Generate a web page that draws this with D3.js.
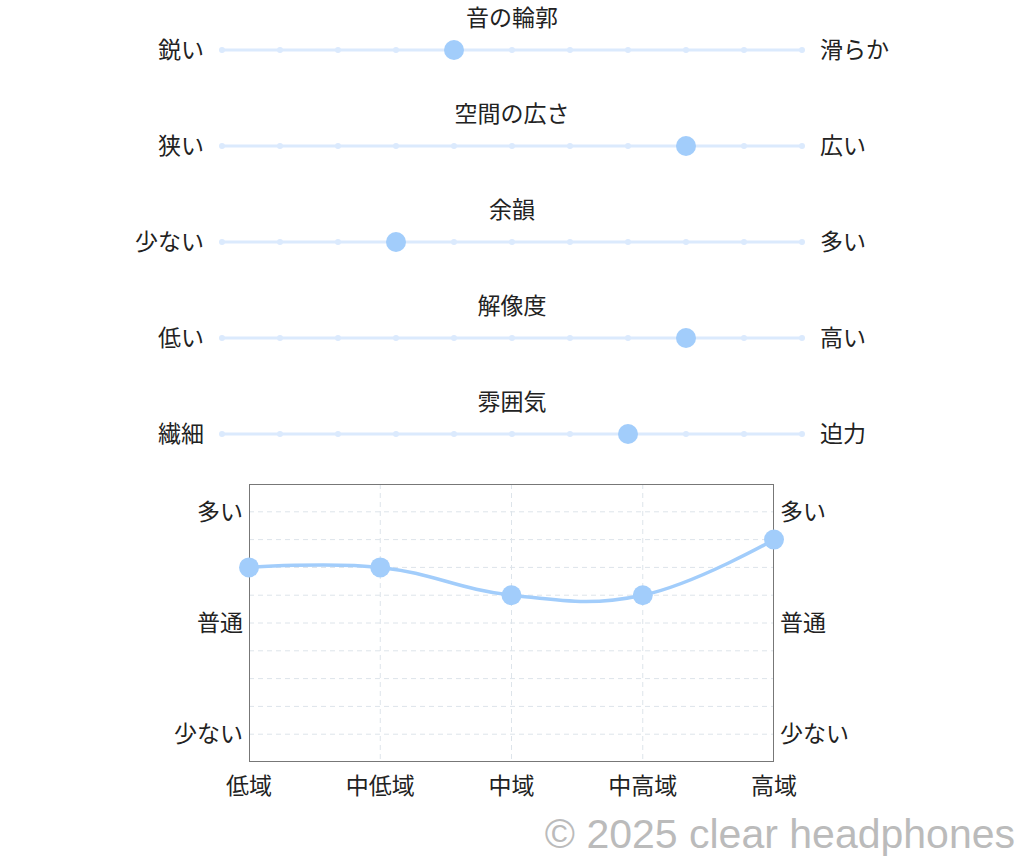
<!DOCTYPE html>
<html><head><meta charset="utf-8">
<script src="https://cdn.jsdelivr.net/npm/d3@7"></script>
<style>
html,body{margin:0;padding:0;background:#fff;}
text{font-family:"Noto Sans CJK JP","Noto Sans",sans-serif;}
</style></head>
<body>
<svg id="c" width="1024" height="864"></svg>
<script>
// Slider data
const sliderTitles = ["音の輪郭","空間の広さ","余韻","解像度","雰囲気"];
const sliderLeft = ["鋭い","狭い","少ない","低い","繊細"];
const sliderRight = ["滑らか","広い","多い","高い","迫力"];
const sliderValues = [4, 8, 3, 8, 7];
const sliderSteps = [0,1,2,3,4,5,6,7,8,9,10];

// Frequency chart data
const bands = ["低域","中低域","中域","中高域","高域"];
const bandValues = [2, 2, 1, 1, 3];
const yTickValues = [4, 0, -4];
const yTickLabels = ["多い","普通","少ない"];
const yGridValues = [-4,-3,-2,-1,0,1,2,3,4];

const svg = d3.select("#c");
const trackColor = "#dbeafd";
const pointColor = "#a2cdfb";
const fs = 23;

// Sliders
const sx = d3.scaleLinear().domain([0,10]).range([222,802]);
const rowY = d3.scaleLinear().domain([0,4]).range([50,434]);
sliderTitles.forEach((t,i)=>{
  const yy = rowY(i);
  const g = svg.append("g");
  g.append("text").attr("x",512).attr("y",yy-32).attr("dy","0.35em").attr("text-anchor","middle")
    .attr("font-size",fs).attr("fill","#222").text(t);
  g.append("line").attr("x1",sx(0)).attr("x2",sx(10)).attr("y1",yy).attr("y2",yy)
    .attr("stroke",trackColor).attr("stroke-width",3).attr("stroke-linecap","round");
  g.selectAll("circle.s").data(sliderSteps).join("circle")
    .attr("cx",d=>sx(d)).attr("cy",yy).attr("r",3).attr("fill",trackColor);
  g.append("circle").attr("cx",sx(sliderValues[i])).attr("cy",yy).attr("r",10).attr("fill",pointColor);
  g.append("text").attr("x",204).attr("y",yy).attr("dy","0.35em").attr("text-anchor","end")
    .attr("font-size",fs).attr("fill","#222").text(sliderLeft[i]);
  g.append("text").attr("x",820).attr("y",yy).attr("dy","0.35em").attr("text-anchor","start")
    .attr("font-size",fs).attr("fill","#222").text(sliderRight[i]);
});

// Line chart
const x = d3.scalePoint().domain(bands).range([249,774]).padding(0);
const y = d3.scaleLinear().domain([-5,5]).range([762,484]);
const cg = svg.append("g");
cg.selectAll("line.hg").data(yGridValues).join("line")
  .attr("x1",249).attr("x2",774).attr("y1",d=>y(d)).attr("y2",d=>y(d))
  .attr("stroke","#dde4ea").attr("stroke-width",1).attr("stroke-dasharray","5,4");
cg.selectAll("line.vg").data(bands.slice(1,-1)).join("line")
  .attr("x1",d=>x(d)).attr("x2",d=>x(d)).attr("y1",484).attr("y2",762)
  .attr("stroke","#dde4ea").attr("stroke-width",1).attr("stroke-dasharray","5,4");
cg.append("rect").attr("x",249.5).attr("y",484.5).attr("width",524).attr("height",277)
  .attr("fill","none").attr("stroke","#777").attr("stroke-width",1);

// axes labels
yTickValues.forEach((v,i)=>{
  cg.append("text").attr("x",243).attr("y",y(v)).attr("dy","0.35em").attr("text-anchor","end")
    .attr("font-size",fs).attr("fill","#222").text(yTickLabels[i]);
  cg.append("text").attr("x",780).attr("y",y(v)).attr("dy","0.35em").attr("text-anchor","start")
    .attr("font-size",fs).attr("fill","#222").text(yTickLabels[i]);
});
cg.selectAll("text.xl").data(bands).join("text")
  .attr("x",d=>x(d)).attr("y",786).attr("dy","0.35em").attr("text-anchor","middle")
  .attr("font-size",fs).attr("fill","#222").text(d=>d);

const line = d3.line().x((d,i)=>x(bands[i])).y(d=>y(d)).curve(d3.curveCardinal.tension(-0.2));
cg.append("path").datum(bandValues).attr("d",line).attr("fill","none")
  .attr("stroke",pointColor).attr("stroke-width",3.5);
cg.selectAll("circle.p").data(bandValues).join("circle")
  .attr("cx",(d,i)=>x(bands[i])).attr("cy",d=>y(d)).attr("r",10).attr("fill",pointColor);

// watermark
svg.append("text").attr("x",1015).attr("y",848).attr("text-anchor","end")
  .attr("font-size",41).attr("fill","#bbb").style("font-family","'Liberation Sans',Arial,sans-serif")
  .text("© 2025 clear headphones");
</script>
</body></html>
